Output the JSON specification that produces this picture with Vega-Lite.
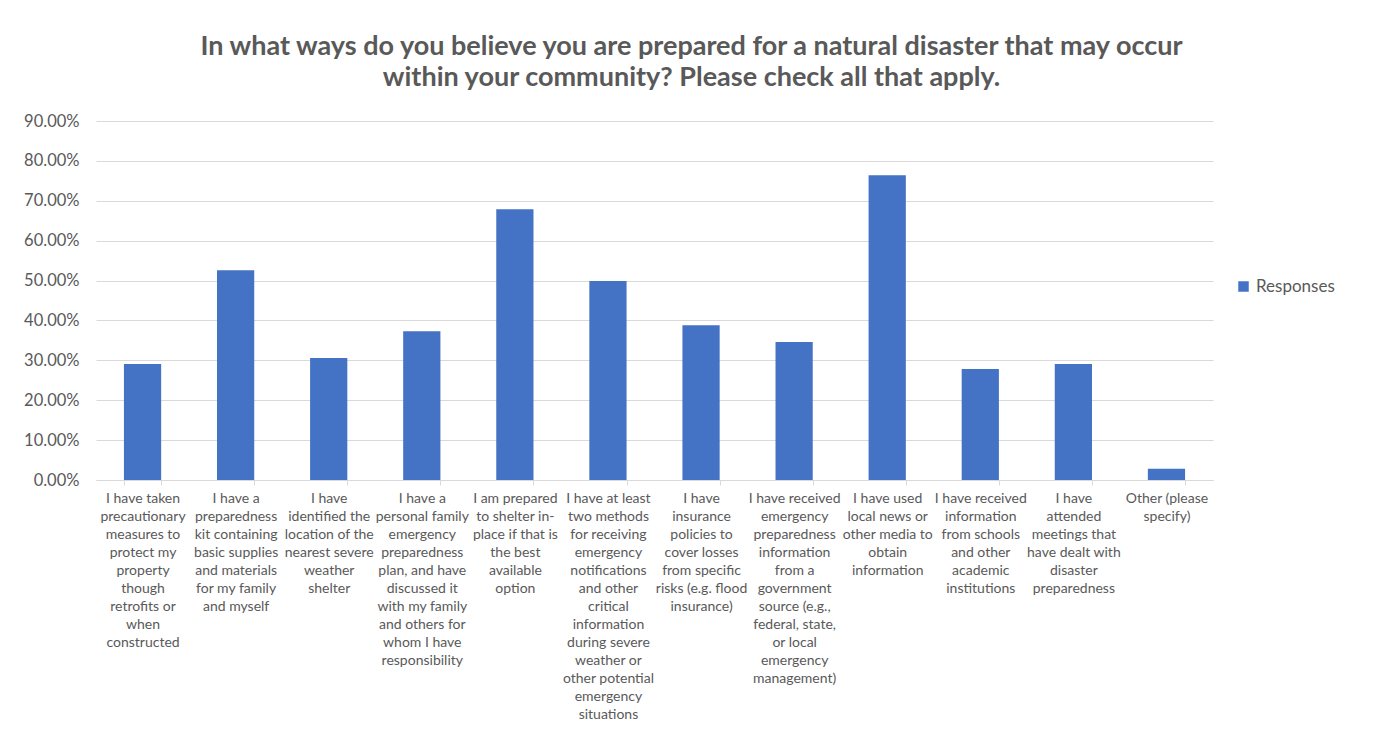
{
  "$schema": "https://vega.github.io/schema/vega-lite/v6.json",
  "autosize": "none",
  "width": 1117,
  "height": 359,
  "padding": {"left": 96, "top": 121, "right": 161, "bottom": 276},
  "background": "white",
  "title": {
    "text": ["In what ways do you believe you are prepared for a natural disaster that may occur", "within your community? Please check all that apply."],
    "fontSize": 27,
    "font": "Lato",
    "fontWeight": "bold",
    "color": "#595959",
    "lineHeight": 31,
    "anchor": "middle",
    "dx": 37,
    "offset": 21
  },
  "data": {
    "values": [
      {"item": "I have taken|precautionary|measures to|protect my|property|though|retrofits or|when|constructed", "value": 0.291, "series": "Responses"},
      {"item": "I have a|preparedness|kit containing|basic supplies|and materials|for my family|and myself", "value": 0.526, "series": "Responses"},
      {"item": "I have|identified the|location of the|nearest severe|weather|shelter", "value": 0.306, "series": "Responses"},
      {"item": "I have a|personal family|emergency|preparedness|plan, and have|discussed it|with my family|and others for|whom I have|responsibility", "value": 0.373, "series": "Responses"},
      {"item": "I am prepared|to shelter in-|place if that is|the best|available|option", "value": 0.679, "series": "Responses"},
      {"item": "I have at least|two methods|for receiving|emergency|notifications|and other|critical|information|during severe|weather or|other potential|emergency|situations", "value": 0.499, "series": "Responses"},
      {"item": "I have|insurance|policies to|cover losses|from specific|risks (e.g. flood|insurance)", "value": 0.388, "series": "Responses"},
      {"item": "I have received|emergency|preparedness|information|from a|government|source (e.g.,|federal, state,|or local|emergency|management)", "value": 0.346, "series": "Responses"},
      {"item": "I have used|local news or|other media to|obtain|information", "value": 0.764, "series": "Responses"},
      {"item": "I have received|information|from schools|and other|academic|institutions", "value": 0.278, "series": "Responses"},
      {"item": "I have|attended|meetings that|have dealt with|disaster|preparedness", "value": 0.291, "series": "Responses"},
      {"item": "Other (please|specify)", "value": 0.028, "series": "Responses"}
    ]
  },
  "mark": {"type": "bar"},
  "encoding": {
    "x": {
      "field": "item",
      "type": "nominal",
      "sort": null,
      "title": null,
      "scale": {"paddingInner": 0.6, "paddingOuter": 0.3},
      "axis": {
        "labelExpr": "isValid(datum.value) ? split(datum.value, '|') : ''",
        "labelAngle": 0,
        "labelLimit": 0,
        "labelFont": "Lato",
        "labelFontSize": 14,
        "labelLineHeight": 18,
        "labelColor": "#595959",
        "labelBaseline": "top",
        "labelPadding": 6,
        "tickBand": "extent",
        "tickColor": "#d9d9d9",
        "tickSize": 5,
        "domainColor": "#d9d9d9",
        "grid": false
      }
    },
    "y": {
      "field": "value",
      "type": "quantitative",
      "title": null,
      "scale": {"domain": [0, 0.9]},
      "axis": {
        "format": ".2%",
        "values": [0, 0.1, 0.2, 0.3, 0.4, 0.5, 0.6, 0.7, 0.8, 0.9],
        "labelFont": "Lato",
        "labelFontSize": 16.5,
        "labelColor": "#595959",
        "labelPadding": 17,
        "ticks": false,
        "domain": false,
        "gridColor": "#d9d9d9",
        "gridWidth": 1
      }
    },
    "color": {
      "field": "series",
      "type": "nominal",
      "scale": {"range": ["#4472C4"]},
      "legend": {
        "title": null,
        "orient": "none",
        "legendX": 1139,
        "legendY": 157,
        "symbolType": "square",
        "symbolSize": 110,
        "symbolStrokeWidth": 0,
        "labelFont": "Lato",
        "labelFontSize": 17,
        "labelColor": "#595959"
      }
    }
  },
  "config": {
    "view": {"stroke": null}
  }
}
